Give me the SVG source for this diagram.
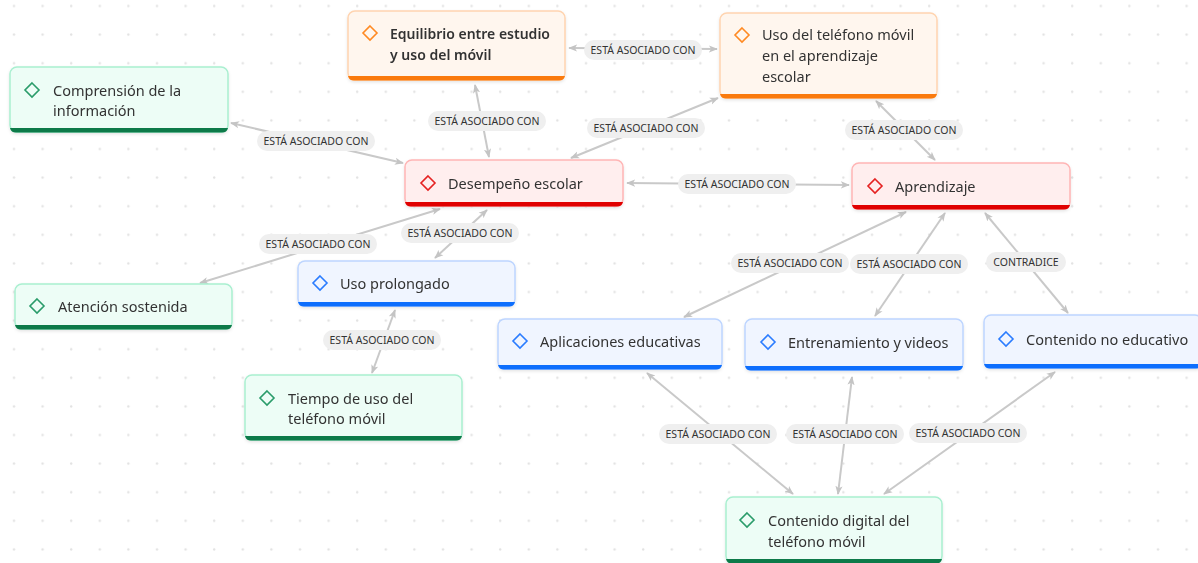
<svg xmlns="http://www.w3.org/2000/svg" width="1198" height="563" viewBox="0 0 1198 563">
<defs>
<pattern id="dots" patternUnits="userSpaceOnUse" x="0" y="-8.3" width="28.6" height="28.6">
<circle cx="14" cy="14.3" r="1.2" fill="#e2e2e2"/>
</pattern>
<marker id="ah" viewBox="0 0 10 10" refX="9" refY="5" markerWidth="9" markerHeight="9" markerUnits="userSpaceOnUse" orient="auto-start-reverse">
<path d="M0,1 L10,5 L0,9 L2.5,5 Z" fill="#c4c4c4"/>
</marker>
<filter id="sh" x="-10%" y="-20%" width="120%" height="150%">
<feDropShadow dx="0" dy="1.5" stdDeviation="1.5" flood-color="#000" flood-opacity="0.10"/>
</filter>
</defs>
<style>
text{font-family:"Noto Sans","Open Sans","DejaVu Sans",sans-serif;fill:#333}
.t{font-size:14.5px}
.tb{font-size:14px;font-weight:600}
.l{font-size:10.5px;fill:#333}
.pill{fill:#efefef}
.e line{stroke:#c9c9c9;stroke-width:2;marker-start:url(#ah);marker-end:url(#ah)}
.dia{fill:none;stroke-width:1.6}
.or .bg{fill:#fff6ee;stroke:#ffd4b0}
.or .bar{fill:#fa7a0a}
.or .dia{stroke:#ff8a24}
.rd .bg{fill:#ffeeee;stroke:#ffb5b5}
.rd .bar{fill:#e00000}
.rd .dia{stroke:#e52222}
.gr .bg{fill:#edfdf6;stroke:#a9efd0}
.gr .bar{fill:#087a48}
.gr .dia{stroke:#2b9c6b}
.bl .bg{fill:#f0f5ff;stroke:#bdd5ff}
.bl .bar{fill:#0d6efd}
.bl .dia{stroke:#2b7cff}
.bg{stroke-width:1.5}
</style>
<rect width="1198" height="563" fill="#ffffff"/>
<rect width="1198" height="563" fill="url(#dots)"/>

<g id="connectors" class="e">
<line x1="569" y1="48" x2="717" y2="49"/>
<line x1="475" y1="85" x2="489" y2="157"/>
<line x1="718" y1="98" x2="571" y2="158"/>
<line x1="876" y1="101" x2="935" y2="160"/>
<line x1="231" y1="123" x2="403" y2="163"/>
<line x1="627" y1="183" x2="849" y2="185"/>
<line x1="440" y1="209" x2="200" y2="283"/>
<line x1="487" y1="210" x2="435" y2="258"/>
<line x1="395" y1="310" x2="372" y2="373"/>
<line x1="906" y1="212" x2="684" y2="317"/>
<line x1="945" y1="213" x2="875" y2="316"/>
<line x1="985" y1="213" x2="1068" y2="313"/>
<line x1="647" y1="373" x2="793" y2="494"/>
<line x1="852" y1="377" x2="838" y2="494"/>
<line x1="1055" y1="372" x2="884" y2="494"/>
</g>

<g id="labels">
<rect class="pill" x="584" y="40" width="118" height="20" rx="10"/><text class="l" x="643" y="54" text-anchor="middle">ESTÁ ASOCIADO CON</text>
<rect class="pill" x="428" y="111" width="118" height="20" rx="10"/><text class="l" x="487" y="125" text-anchor="middle">ESTÁ ASOCIADO CON</text>
<rect class="pill" x="587" y="118" width="118" height="20" rx="10"/><text class="l" x="646" y="132" text-anchor="middle">ESTÁ ASOCIADO CON</text>
<rect class="pill" x="845" y="120" width="118" height="20" rx="10"/><text class="l" x="904" y="134" text-anchor="middle">ESTÁ ASOCIADO CON</text>
<rect class="pill" x="257" y="131" width="118" height="20" rx="10"/><text class="l" x="316" y="145" text-anchor="middle">ESTÁ ASOCIADO CON</text>
<rect class="pill" x="678" y="174" width="118" height="20" rx="10"/><text class="l" x="737" y="188" text-anchor="middle">ESTÁ ASOCIADO CON</text>
<rect class="pill" x="259" y="234" width="118" height="20" rx="10"/><text class="l" x="318" y="248" text-anchor="middle">ESTÁ ASOCIADO CON</text>
<rect class="pill" x="401" y="223" width="118" height="20" rx="10"/><text class="l" x="460" y="237" text-anchor="middle">ESTÁ ASOCIADO CON</text>
<rect class="pill" x="323" y="330" width="118" height="20" rx="10"/><text class="l" x="382" y="344" text-anchor="middle">ESTÁ ASOCIADO CON</text>
<rect class="pill" x="731" y="253" width="118" height="20" rx="10"/><text class="l" x="790" y="267" text-anchor="middle">ESTÁ ASOCIADO CON</text>
<rect class="pill" x="850" y="254" width="118" height="20" rx="10"/><text class="l" x="909" y="268" text-anchor="middle">ESTÁ ASOCIADO CON</text>
<rect class="pill" x="986" y="252" width="80" height="20" rx="10"/><text class="l" x="1026" y="266" text-anchor="middle">CONTRADICE</text>
<rect class="pill" x="659" y="424" width="118" height="20" rx="10"/><text class="l" x="718" y="438" text-anchor="middle">ESTÁ ASOCIADO CON</text>
<rect class="pill" x="786" y="424" width="118" height="20" rx="10"/><text class="l" x="845" y="438" text-anchor="middle">ESTÁ ASOCIADO CON</text>
<rect class="pill" x="909" y="423" width="118" height="20" rx="10"/><text class="l" x="968" y="437" text-anchor="middle">ESTÁ ASOCIADO CON</text>
</g>

<g id="n-equilibrio" class="or" filter="url(#sh)">
<rect class="bg" x="348" y="11" width="217" height="69" rx="7"/>
<path class="bar" d="M348,76 H565 A6,6 0 0 1 559,80.5 H354 A6,6 0 0 1 348,76 Z"/>
<path class="dia" d="M370,26 L377,33 L370,40 L363,33 Z"/>
<text class="tb" x="390" y="38.5">Equilibrio entre estudio</text>
<text class="tb" x="390" y="59.5">y uso del móvil</text>
</g>

<g id="n-uso-telefono" class="or" filter="url(#sh)">
<rect class="bg" x="720" y="13" width="217" height="85" rx="7"/>
<path class="bar" d="M720,94 H937 A6,6 0 0 1 931,98.5 H726 A6,6 0 0 1 720,94 Z"/>
<path class="dia" d="M742,28 L749,35 L742,42 L735,35 Z"/>
<text class="t" x="762" y="39.5">Uso del teléfono móvil</text>
<text class="t" x="762" y="60.5">en el aprendizaje</text>
<text class="t" x="762" y="81.5">escolar</text>
</g>

<g id="n-comprension" class="gr" filter="url(#sh)">
<rect class="bg" x="10" y="67" width="218" height="65" rx="7"/>
<path class="bar" d="M10,128 H228 A6,6 0 0 1 222,132.5 H16 A6,6 0 0 1 10,128 Z"/>
<path class="dia" d="M32,83 L39,90 L32,97 L25,90 Z"/>
<text class="t" x="53" y="95.5">Comprensión de la</text>
<text class="t" x="53" y="115.5">información</text>
</g>

<g id="n-desempeno" class="rd" filter="url(#sh)">
<rect class="bg" x="405" y="160" width="218" height="46" rx="7"/>
<path class="bar" d="M405,202 H623 A6,6 0 0 1 617,206.5 H411 A6,6 0 0 1 405,202 Z"/>
<path class="dia" d="M428,176 L435,183 L428,190 L421,183 Z"/>
<text class="t" x="448" y="188.5">Desempeño escolar</text>
</g>

<g id="n-aprendizaje" class="rd" filter="url(#sh)">
<rect class="bg" x="852" y="163" width="218" height="46" rx="7"/>
<path class="bar" d="M852,205 H1070 A6,6 0 0 1 1064,209.5 H858 A6,6 0 0 1 852,205 Z"/>
<path class="dia" d="M875,179 L882,186 L875,193 L868,186 Z"/>
<text class="t" x="895" y="191.5">Aprendizaje</text>
</g>

<g id="n-atencion" class="gr" filter="url(#sh)">
<rect class="bg" x="15" y="284" width="217" height="45" rx="7"/>
<path class="bar" d="M15,325 H232 A6,6 0 0 1 226,329.5 H21 A6,6 0 0 1 15,325 Z"/>
<path class="dia" d="M37,299 L44,306 L37,313 L30,306 Z"/>
<text class="t" x="58" y="311.5">Atención sostenida</text>
</g>

<g id="n-uso-prolongado" class="bl" filter="url(#sh)">
<rect class="bg" x="298" y="261" width="217" height="45" rx="7"/>
<path class="bar" d="M298,302 H515 A6,6 0 0 1 509,306.5 H304 A6,6 0 0 1 298,302 Z"/>
<path class="dia" d="M320,276 L327,283 L320,290 L313,283 Z"/>
<text class="t" x="340" y="288.5">Uso prolongado</text>
</g>

<g id="n-aplicaciones" class="bl" filter="url(#sh)">
<rect class="bg" x="498" y="319" width="224" height="50" rx="7"/>
<path class="bar" d="M498,365 H722 A6,6 0 0 1 716,369.5 H504 A6,6 0 0 1 498,365 Z"/>
<path class="dia" d="M520,334 L527,341 L520,348 L513,341 Z"/>
<text class="t" x="540" y="346.5">Aplicaciones educativas</text>
</g>

<g id="n-entrenamiento" class="bl" filter="url(#sh)">
<rect class="bg" x="745" y="319" width="218" height="51" rx="7"/>
<path class="bar" d="M745,366 H963 A6,6 0 0 1 957,370.5 H751 A6,6 0 0 1 745,366 Z"/>
<path class="dia" d="M768,335 L775,342 L768,349 L761,342 Z"/>
<text class="t" x="788" y="347.5">Entrenamiento y videos</text>
</g>

<g id="n-no-educativo" class="bl" filter="url(#sh)">
<rect class="bg" x="984" y="315" width="218" height="53" rx="7"/>
<path class="bar" d="M984,364 H1202 A6,6 0 0 1 1196,368.5 H990 A6,6 0 0 1 984,364 Z"/>
<path class="dia" d="M1006,332 L1013,339 L1006,346 L999,339 Z"/>
<text class="t" x="1026" y="344.5">Contenido no educativo</text>
</g>

<g id="n-tiempo" class="gr" filter="url(#sh)">
<rect class="bg" x="245" y="375" width="217" height="65" rx="7"/>
<path class="bar" d="M245,436 H462 A6,6 0 0 1 456,440.5 H251 A6,6 0 0 1 245,436 Z"/>
<path class="dia" d="M267,391 L274,398 L267,405 L260,398 Z"/>
<text class="t" x="288" y="403.5">Tiempo de uso del</text>
<text class="t" x="288" y="423.5">teléfono móvil</text>
</g>

<g id="n-contenido-digital" class="gr" filter="url(#sh)">
<rect class="bg" x="726" y="497" width="216" height="66" rx="7"/>
<path class="bar" d="M726,559 H942 A6,6 0 0 1 936,563.5 H732 A6,6 0 0 1 726,559 Z"/>
<path class="dia" d="M747,513 L754,520 L747,527 L740,520 Z"/>
<text class="t" x="768" y="525.5">Contenido digital del</text>
<text class="t" x="768" y="546.5">teléfono móvil</text>
</g>
</svg>
